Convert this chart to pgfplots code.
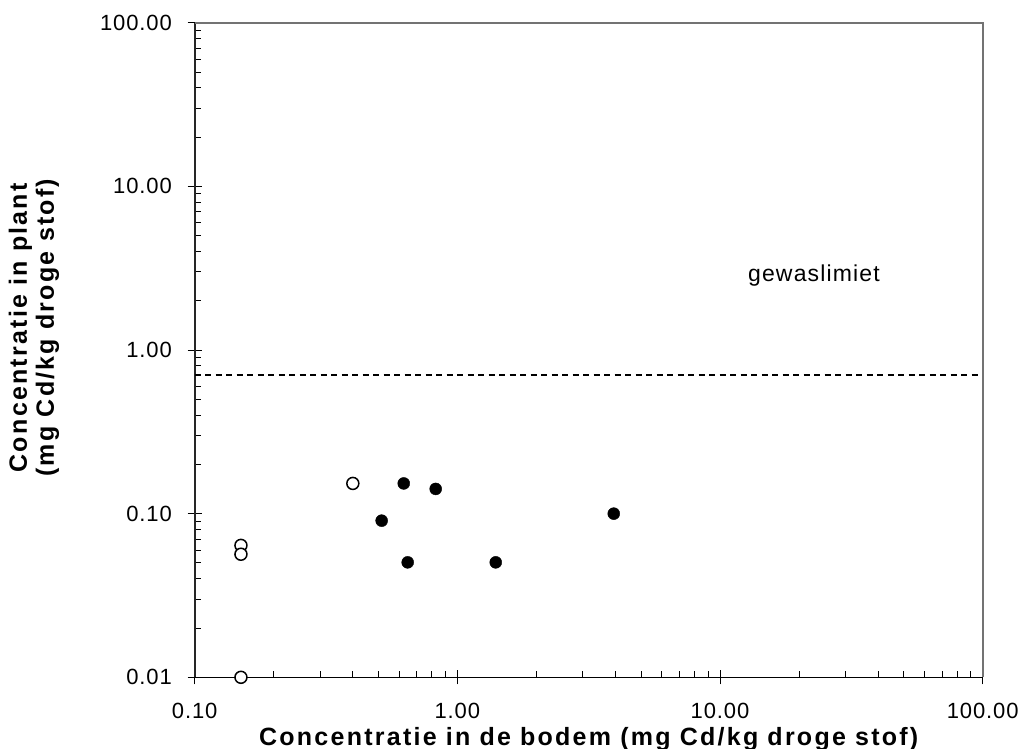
\documentclass[border=0pt]{standalone}
\usepackage{fontspec}
\setmainfont{Liberation Sans}
\newfontfamily\tickfont[LetterSpace=4]{Liberation Sans}
\newfontfamily\gewfont[LetterSpace=5]{Liberation Sans}
\newfontfamily\lblfont[LetterSpace=9]{Liberation Sans}
\usepackage{pgfplots}
\pgfplotsset{compat=1.18}
\begin{document}
\begin{tikzpicture}
\begin{axis}[name=ax, scale only axis, width=788pt, height=654.6pt,
  xmode=log, ymode=log, xmin=0.1, xmax=100, ymin=0.01, ymax=100,
  axis lines*=left, clip=false,
  x axis line style={black, line width=1pt},
  y axis line style={black!85, line width=1.8pt},
  xtick={0.1,1,10,100}, xticklabels={0.10,1.00,10.00,100.00},
  ytick={0.01,0.1,1,10,100}, yticklabels={0.01,0.10,1.00,10.00,100.00},
  tick align=center, major tick length=14pt, minor tick length=6pt,
  minor x tick style={yshift=3pt}, minor y tick style={xshift=3pt},
  tick style={black, line width=0.9pt},
  tick label style={font=\fontsize{22}{26}\selectfont\tickfont, inner sep=0pt},
  xticklabel style={anchor=north, yshift=-18.7pt},
  yticklabel style={anchor=east, xshift=-15.7pt},
  xlabel={Concentratie in de bodem (mg Cd/kg droge stof)},
  xlabel style={at={(axis description cs:0.5,0)}, anchor=north, yshift=-49.7pt, inner sep=0pt,
    font=\fontsize{25}{27}\selectfont\lblfont\bfseries},
  ylabel={Concentratie in plant\\(mg Cd/kg droge stof)},
  ylabel style={at={(axis description cs:0,0.534)}, anchor=center, yshift=160.7pt, inner sep=0pt, align=center,
    font=\fontsize{25}{27}\selectfont\lblfont\bfseries},
]
\addplot[black, line width=2pt, dash pattern=on 6pt off 4.5pt] coordinates {(0.1,0.7) (100,0.7)};
\addplot[only marks, mark=*, mark size=6pt, mark options={fill=white, draw=black, line width=1.5pt}]
  coordinates {(0.15,0.064) (0.15,0.0565) (0.15,0.01) (0.40,0.153)};
\addplot[only marks, mark=*, mark size=6pt, mark options={fill=black, draw=black}]
  coordinates {(0.625,0.153) (0.827,0.1416) (0.515,0.0906) (0.647,0.0504) (1.40,0.0504) (3.94,0.1)};
\node[anchor=base west, inner sep=0pt, font=\fontsize{23}{26}\selectfont\gewfont] at (axis cs:12.77,2.615) {gewaslimiet};
\draw[black!55, line width=1.7pt] (rel axis cs:0,1) -- (rel axis cs:1,1) -- (rel axis cs:1,0);
\end{axis}
\pgfresetboundingbox
\path ([xshift=-194.7pt,yshift=-71.7pt]ax.south west) rectangle ([xshift=43.3pt,yshift=22.7pt]ax.north east);
\end{tikzpicture}
\end{document}
